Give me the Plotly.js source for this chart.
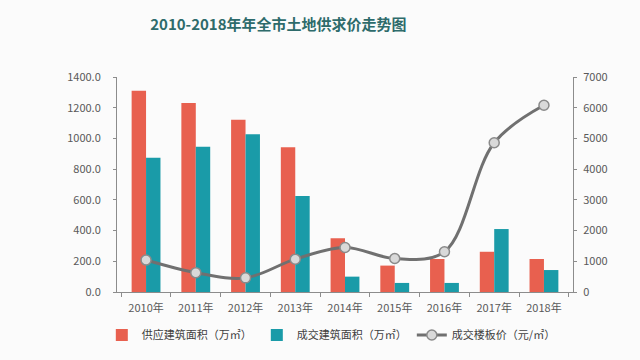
<!DOCTYPE html>
<html><head><meta charset="utf-8">
<script src="https://cdn.plot.ly/plotly-3.0.1.min.js"></script>
<style>html,body{margin:0;padding:0;background:#fbfbfb;}#chart{width:640px;height:360px;}</style>
</head><body><div id="chart"></div>
<script>
const years = ["2010年","2011年","2012年","2013年","2014年","2015年","2016年","2017年","2018年"];
const supplyArea = [1310, 1230, 1122, 942, 350, 172, 215, 262, 215];
const dealArea = [874, 946, 1027, 625, 100, 59, 59, 410, 143];
const dealPrice = [1040, 630, 460, 1070, 1450, 1090, 1310, 4860, 6080];
const leftTicks = [0,200,400,600,800,1000,1200,1400];
const rightTicks = [0,1000,2000,3000,4000,5000,6000,7000];

const font = {family: "'Noto Sans CJK SC', 'Noto Sans', sans-serif", size: 11, color: "#595959"};
const data = [
  {type:"bar", name:"供应建筑面积（万㎡）", x: years, y: supplyArea, marker:{color:"#E8604F"}},
  {type:"bar", name:"成交建筑面积（万㎡）", x: years, y: dealArea, marker:{color:"#1A9BA8"}},
  {type:"scatter", mode:"lines+markers", name:"成交楼板价（元/㎡）", x: years, y: dealPrice, yaxis:"y2",
   line:{color:"#707070", width:3, shape:"spline", smoothing:1},
   marker:{size:10, color:"#d9d9d9", line:{color:"#8a8a8a", width:1.5}}}
];
const layout = {
  width:640, height:360,
  paper_bgcolor:"#fbfbfb", plot_bgcolor:"rgba(0,0,0,0)",
  margin:{l:117, r:67, t:77, b:68, autoexpand:false},
  font: font,
  title:{text:"<b>2010-2018年年全市土地供求价走势图</b>", x:0.435, xanchor:"center", y:0.93, yanchor:"middle",
    font:{family:"'Noto Sans CJK SC', sans-serif", size:15, color:"#2E6B6B"}},
  barmode:"group", bargap:0.42, bargroupgap:0,
  xaxis:{type:"category", showline:true, linecolor:"#8c8c8c", linewidth:1, ticks:"outside", tickson:"boundaries",
    ticklen:4, tickcolor:"#8c8c8c", showgrid:false, tickfont:font, ticklabelstandoff:6, automargin:false},
  yaxis:{range:[0,1400], tickvals:leftTicks, tickformat:".1f", showline:true, linecolor:"#8c8c8c", linewidth:1,
    ticks:"outside", ticklen:3, tickcolor:"#8c8c8c", showgrid:false, zeroline:false, tickfont:font, ticklabelstandoff:10, automargin:false},
  yaxis2:{range:[0,7000], tickvals:rightTicks, overlaying:"y", side:"right", showline:true, linecolor:"#8c8c8c",
    linewidth:1, ticks:"outside", ticklen:3, tickcolor:"#8c8c8c", showgrid:false, zeroline:false, tickfont:font, ticklabelstandoff:4, automargin:false},
  legend:{orientation:"h", x:0.47, xanchor:"center", xref:"paper", y:-0.2, yanchor:"middle", font:{...font, color:"#404040"},
    itemwidth:30, traceorder:"normal", bgcolor:"rgba(0,0,0,0)"},
  showlegend:true
};
Plotly.newPlot("chart", data, layout, {displayModeBar:false, staticPlot:true});
</script></body></html>
